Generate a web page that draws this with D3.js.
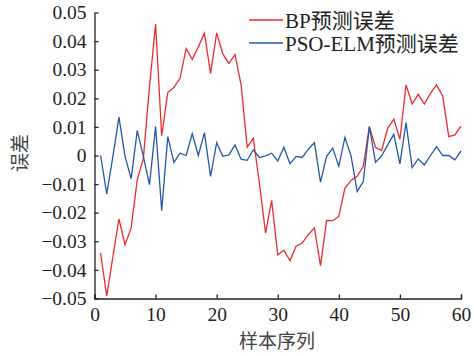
<!DOCTYPE html>
<html>
<head>
<meta charset="utf-8">
<script src="https://cdn.jsdelivr.net/npm/d3@7"></script>
<style>
  body { margin: 0; background: #fff; }
  svg text { font-family: "Liberation Serif", "Noto Sans CJK SC", serif; fill: #222; }
</style>
</head>
<body>
<svg id="chart" width="474" height="356"></svg>
<script>
// BP prediction error, samples 1..60
const bpError = [
  -0.0341, -0.0492, -0.0355, -0.0222, -0.0312, -0.0253, -0.0085, -0.0010, 0.0240, 0.0460,
  0.0069, 0.0220, 0.0238, 0.0270, 0.0374, 0.0336, 0.0380, 0.0427, 0.0287, 0.0429,
  0.0355, 0.0322, 0.0353, 0.0247, 0.0029, 0.0060, -0.0097, -0.0271, -0.0157, -0.0347,
  -0.0331, -0.0367, -0.0317, -0.0306, -0.0277, -0.0253, -0.0385, -0.0227, -0.0228, -0.0213,
  -0.0114, -0.0087, -0.0073, -0.0038, 0.0101, 0.0029, 0.0017, 0.0095, 0.0127, 0.0057,
  0.0247, 0.0180, 0.0214, 0.0180, 0.0217, 0.0247, 0.0208, 0.0066, 0.0072, 0.0103
];
// PSO-ELM prediction error
const psoElmError = [
  0.0000, -0.0134, -0.0005, 0.0134, -0.0003, -0.0081, 0.0087, -0.0003, -0.0102, 0.0101,
  -0.0193, 0.0066, -0.0024, 0.0008, 0.0000, 0.0076, 0.0000, 0.0080, -0.0073, 0.0045,
  -0.0003, 0.0002, 0.0037, -0.0013, -0.0017, 0.0020, -0.0007, -0.0001, 0.0008, -0.0019,
  0.0029, -0.0029, -0.0003, -0.0007, 0.0022, 0.0045, -0.0093, -0.0003, 0.0026, -0.0038,
  0.0063, -0.0001, -0.0126, -0.0091, 0.0101, -0.0024, -0.0001, 0.0037, 0.0074, -0.0029,
  0.0115, -0.0042, -0.0012, -0.0033, 0.0000, 0.0031, 0.0000, 0.0000, -0.0015, 0.0016
];
const xTicks = [0, 10, 20, 30, 40, 50, 60];
const yTicks = [-0.05, -0.04, -0.03, -0.02, -0.01, 0, 0.01, 0.02, 0.03, 0.04, 0.05];
const seriesNames = ['BP预测误差', 'PSO-ELM预测误差'];
const seriesColors = ['#ee2b2e', '#2457a8'];

const svg = d3.select('#chart');
const margin = { left: 94.5, right: 13, top: 12.5, bottom: 57.5 };
const width = 474 - margin.left - margin.right;
const height = 356 - margin.top - margin.bottom;

const x = d3.scaleLinear().domain([0, 60]).range([0, width]);
const y = d3.scaleLinear().domain([-0.05, 0.05]).range([height, 0]);

const g = svg.append('g')
  .attr('transform', 'translate(' + margin.left + ',' + margin.top + ')');

const fmt = d => d === 0 ? '0' : (d < 0 ? '\u2212' : '') + Math.abs(d).toFixed(2);

const xAxis = g.append('g')
  .attr('transform', 'translate(0,' + height + ')')
  .call(d3.axisBottom(x).tickValues(xTicks).tickSize(-4).tickSizeOuter(-4).tickPadding(9));
const yAxis = g.append('g')
  .call(d3.axisLeft(y).tickValues(yTicks).tickFormat(fmt).tickSize(-4).tickSizeOuter(0).tickPadding(8));

[xAxis, yAxis].forEach(a => {
  a.selectAll('path, line').attr('stroke', '#222').attr('stroke-width', 1.3);
  a.selectAll('text').attr('font-size', 19.5).attr('fill', '#222')
    .attr('font-family', '"Liberation Serif", serif');
});

const line = d3.line()
  .x((d, i) => x(i + 1))
  .y(d => y(d));

[bpError, psoElmError].forEach((s, i) => {
  g.append('path')
    .datum(s)
    .attr('fill', 'none')
    .attr('stroke', seriesColors[i])
    .attr('stroke-width', 1.3)
    .attr('stroke-linejoin', 'miter')
    .attr('d', line);
});

// legend
const legend = svg.append('g').attr('transform', 'translate(249,20)');
seriesNames.forEach((name, i) => {
  const row = legend.append('g').attr('transform', 'translate(0,' + (i * 23) + ')');
  row.append('line')
    .attr('x1', 0).attr('x2', 34)
    .attr('stroke', seriesColors[i]).attr('stroke-width', 1.3);
  row.append('text')
    .attr('x', 36).attr('dy', '0.36em')
    .attr('font-size', 21)
    .text(name);
});

// axis titles
svg.append('text')
  .attr('x', 277).attr('y', 348)
  .attr('text-anchor', 'middle')
  .attr('font-size', 19)
  .style('fill', '#444')
  .text('样本序列');
svg.append('text')
  .attr('transform', 'translate(27,153) rotate(-90)')
  .attr('text-anchor', 'middle')
  .attr('font-size', 19)
  .style('fill', '#444')
  .text('误差');
</script>
</body>
</html>
